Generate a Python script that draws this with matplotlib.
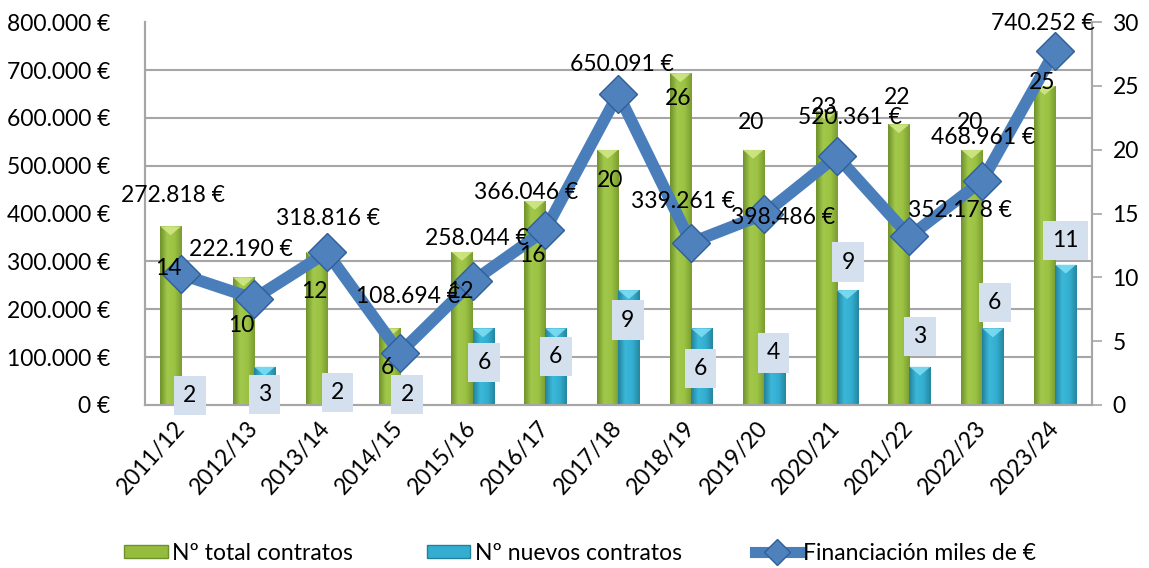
import matplotlib
matplotlib.use("Agg")
import matplotlib.pyplot as plt
import numpy as np
from matplotlib.colors import LinearSegmentedColormap
from matplotlib.patches import Patch, Polygon
from matplotlib.lines import Line2D

plt.rcParams['font.family'] = ['Lato', 'DejaVu Sans']

cursos = ["2011/12", "2012/13", "2013/14", "2014/15", "2015/16", "2016/17", "2017/18",
          "2018/19", "2019/20", "2020/21", "2021/22", "2022/23", "2023/24"]
total_contratos = [14, 10, 12, 6, 12, 16, 20, 26, 20, 23, 22, 20, 25]
nuevos_contratos = [2, 3, 2, 2, 6, 6, 9, 6, 4, 9, 3, 6, 11]
financiacion = [272818, 222190, 318816, 108694, 258044, 366046, 650091,
                339261, 398486, 520361, 352178, 468961, 740252]

# label offsets in pixels (dx, dy)
off_fin = [(-8, 79), (-13, 49), (1, 34), (8, 56), (4, 43), (-19, 37), (4, 29),
           (-8, 41), (19, -3), (13, 38), (51, 26), (1, 43), (-12, 27)]
off_tot = [(-2, -42), (-2, -48), (-2, -40), (-2, -39), (-2, -40), (-2, -55), (2, -31),
           (-2, -25), (-2, 27), (-2, 4), (-2, 27), (-2, 27), (-2, 3)]
off_nue = [(-2, -16), (0, -28), (0, -13), (-3, -15), (1, -34), (0, -28), (-1, -30),
           (-1, -40), (-1, 1), (1, 28), (0, 30), (2, 26), (0, 24)]

FS = 16.5


def fmt_eur(v):
    return "{:,.0f} €".format(v).replace(",", ".")


def shade(ax, bars, cmap, top_color):
    grad = np.linspace(0, 1, 64).reshape(1, -1)
    for b in bars:
        x, y = b.get_x(), b.get_y()
        w, h = b.get_width(), b.get_height()
        im = ax.imshow(grad, extent=[x, x + w, y, y + h], aspect='auto',
                       cmap=cmap, zorder=2, interpolation='bicubic')
        im.set_clip_path(b)
        b.set_facecolor('none')
        # light bevel on top of the bar
        ax.add_patch(Polygon([(x, y + h), (x + w, y + h), (x + w / 2, y + h - 0.7)],
                             closed=True, facecolor=top_color, edgecolor='none',
                             alpha=0.8, zorder=3))


green_cm = LinearSegmentedColormap.from_list("g", ["#6f912b", "#a3c94c", "#9cc244", "#7a9c30"])
cyan_cm = LinearSegmentedColormap.from_list("c", ["#23819c", "#3bb8d9", "#34aed0", "#24869f"])

fig = plt.figure(figsize=(11.49, 5.68), dpi=100)
ax = fig.add_axes([0.126, 0.287, 0.824, 0.674])
ax2 = ax.twinx()

x = np.arange(len(cursos))
w = 0.29
b1 = ax.bar(x - w / 2, total_contratos, w, zorder=2, linewidth=0)
b2 = ax.bar(x + w / 2, nuevos_contratos, w, zorder=2, linewidth=0)
shade(ax, b1, green_cm, '#d6ec8e')
shade(ax, b2, cyan_cm, '#86e2f6')

ax.set_xlim(-0.5, len(cursos) - 0.5)
ax.set_ylim(0, 30)
ax.set_yticks(np.arange(0, 31, 5))
ax.set_yticks(np.arange(0, 30.1, 3.75), minor=True)
ax.grid(which='minor', axis='y', color='#a6a6a6', linewidth=1.5, zorder=0)
ax.set_axisbelow(True)
ax.yaxis.tick_right()
ax.tick_params(axis='y', which='major', length=7, width=1.2, color='#a6a6a6',
               labelsize=FS, pad=8)
ax.tick_params(axis='y', which='minor', length=0)
ax.set_xticks(x)
ax.set_xticklabels(cursos, rotation=48, ha='right', va='center', rotation_mode='anchor',
                   fontsize=FS)
ax.tick_params(axis='x', length=0, pad=14)

ax2.plot(x, financiacion, color='#4a7ebb', linewidth=8.5, marker='D', markersize=19,
         markerfacecolor='#4f81bd', markeredgecolor='#2f5f98', markeredgewidth=1, zorder=5)
ax2.set_ylim(0, 800000)
ax2.set_yticks(np.arange(0, 800001, 100000))
ax2.set_yticklabels([fmt_eur(v) for v in np.arange(0, 800001, 100000)])
ax2.yaxis.tick_left()
ax2.tick_params(axis='y', length=0, labelsize=FS, pad=25)

for a in (ax, ax2):
    a.spines['top'].set_visible(False)
    for s in ['left', 'right', 'bottom']:
        a.spines[s].set_color('#a6a6a6')
        a.spines[s].set_linewidth(1.5)

for i, v in enumerate(financiacion):
    ax2.annotate(fmt_eur(v), (x[i], v), xytext=off_fin[i], textcoords='offset pixels',
                 ha='center', va='center', fontsize=FS, zorder=10)
for i, v in enumerate(total_contratos):
    ax2.annotate(str(v), (x[i] - w / 2, v / 30 * 800000), xytext=off_tot[i],
                 textcoords='offset pixels', ha='center', va='center', fontsize=FS, zorder=10)
for i, v in enumerate(nuevos_contratos):
    ax2.annotate(str(v), (x[i] + w / 2, v / 30 * 800000), xytext=off_nue[i],
                 textcoords='offset pixels', ha='center', va='center', fontsize=FS, zorder=10,
                 bbox=dict(boxstyle='square,pad=0.4', facecolor='#d5e0ef', edgecolor='none'))

handles = [Patch(facecolor='#95bb3f', edgecolor='#6f912b'),
           Patch(facecolor='#34aed0', edgecolor='#23819c'),
           Line2D([], [], color='#4a7ebb', linewidth=8, marker='D', markersize=13,
                  markerfacecolor='#4f81bd', markeredgecolor='#2f5f98')]
fig.legend(handles, ["Nº total contratos", "Nº nuevos contratos", "Financiación miles de €"],
           loc='center', bbox_to_anchor=(0.505, 0.026), ncol=3, frameon=False,
           fontsize=FS, columnspacing=3.2, handlelength=1.9, handleheight=0.5,
           handletextpad=0.2)

fig.savefig("out.png", dpi=100)
